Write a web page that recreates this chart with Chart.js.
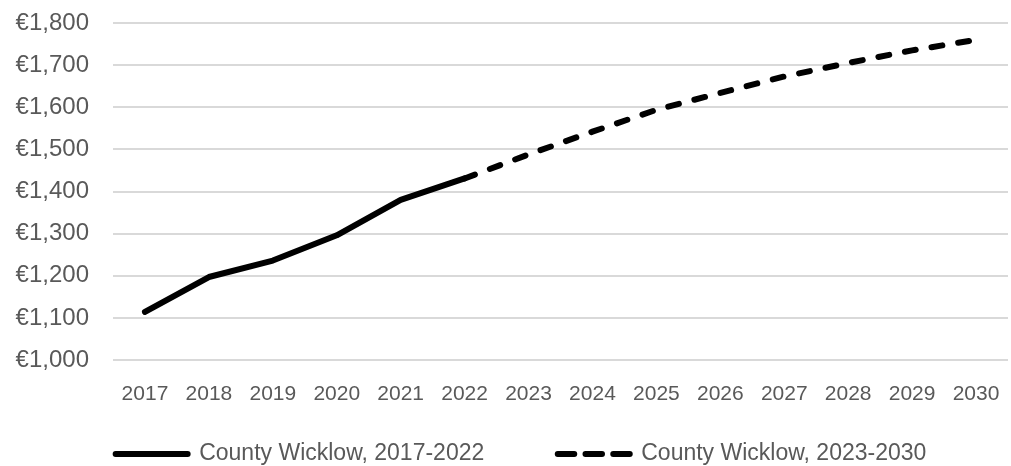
<!DOCTYPE html>
<html>
<head>
<meta charset="utf-8">
<script src="https://cdn.jsdelivr.net/npm/chart.js@4"></script>
<style>
  html, body { margin: 0; padding: 0; background: #fff; }
  #wrap { width: 1011px; height: 466px; }
</style>
</head>
<body>
<div id="wrap"><canvas id="rentChart" width="1011" height="466"></canvas></div>
<script>
const years = ['2017', '2018', '2019', '2020', '2021', '2022', '2023',
               '2024', '2025', '2026', '2027', '2028', '2029', '2030'];
const actualRent = [1114, 1197, 1236, 1296, 1380, 1431,
                    null, null, null, null, null, null, null, null];
const projectedRent = [null, null, null, null, null, 1431,
                       1488, 1542, 1594, 1634, 1673, 1705, 1735, 1760];

const FONT = '"Liberation Sans", Arial, sans-serif';
const GREY = '#595959';

// legend rows: big label padding spaces the two items apart,
// so pull the box back up and a little to the right afterwards
const legendNudge = {
    id: 'legendNudge',
    afterLayout(chart) {
        const lg = chart.legend;
        lg.top -= 41;
        lg.left += 17;
        lg.right += 17;
    }
};

new Chart(document.getElementById('rentChart'), {
    type: 'line',
    data: {
        labels: years,
        datasets: [
            {
                label: 'County Wicklow, 2017-2022',
                data: actualRent,
                borderColor: '#000',
                backgroundColor: '#000',
                borderWidth: 6,
                borderCapStyle: 'round',
                borderJoinStyle: 'round',
                pointRadius: 0,
                tension: 0
            },
            {
                label: 'County Wicklow, 2023-2030',
                data: projectedRent,
                borderColor: '#000',
                backgroundColor: '#000',
                borderWidth: 6,
                borderDash: [11, 16],
                borderCapStyle: 'round',
                borderJoinStyle: 'round',
                pointRadius: 0,
                tension: 0
            }
        ]
    },
    options: {
        responsive: false,
        animation: false,
        layout: {
            padding: { top: 23, right: 3, bottom: 0, left: 0 }
        },
        plugins: {
            tooltip: { enabled: false },
            legend: {
                position: 'bottom',
                maxHeight: 56,
                labels: {
                    usePointStyle: true,
                    pointStyle: 'line',
                    pointStyleWidth: 72,
                    padding: 73.5,
                    color: GREY,
                    font: { family: FONT, size: 23 },
                    generateLabels(chart) {
                        const items = Chart.defaults.plugins.legend.labels.generateLabels(chart);
                        items.forEach(item => {
                            const ds = chart.data.datasets[item.datasetIndex];
                            item.lineDash = ds.borderDash ? [16.5, 11.25] : [];
                            item.lineCap = 'round';
                            item.lineWidth = ds.borderWidth;
                            item.strokeStyle = ds.borderColor;
                        });
                        return items;
                    }
                }
            }
        },
        scales: {
            x: {
                offset: true,
                grid: { display: false, drawTicks: false },
                border: { display: false },
                ticks: {
                    color: GREY,
                    padding: 22,
                    maxRotation: 0,
                    autoSkip: false,
                    font: { family: FONT, size: 21 }
                },
                afterFit(scale) {
                    scale.height = 50;
                    scale.paddingLeft = 0;
                    scale.paddingRight = 0;
                }
            },
            y: {
                min: 1000,
                max: 1800,
                grid: { color: '#d9d9d9', lineWidth: 2, drawTicks: false },
                border: { display: false },
                ticks: {
                    stepSize: 100,
                    color: GREY,
                    padding: 24,
                    font: { family: FONT, size: 24 },
                    callback: v => '€' + v.toLocaleString('en-US')
                },
                afterFit(scale) {
                    scale.width = 113;
                    scale.paddingTop = 0;
                    scale.paddingBottom = 0;
                }
            }
        }
    },
    plugins: [legendNudge]
});
</script>
</body>
</html>
